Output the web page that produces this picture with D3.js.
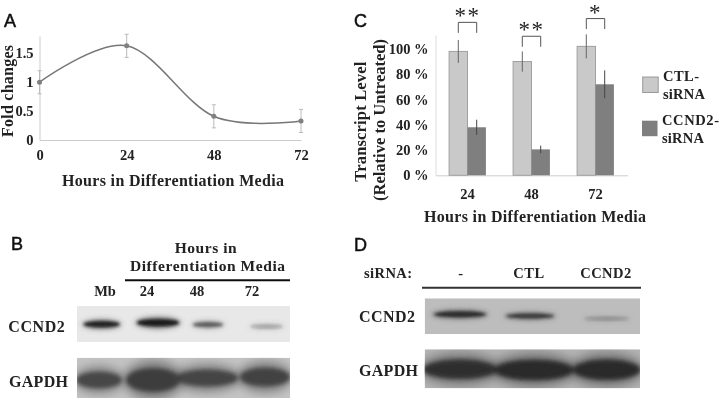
<!DOCTYPE html>
<html>
<head>
<meta charset="utf-8">
<script src="https://cdnjs.cloudflare.com/ajax/libs/d3/7.8.5/d3.min.js"></script>
<style>
  html, body { margin: 0; padding: 0; background: #fff; }
  svg { display: block; }
  text { font-family: "Liberation Serif", serif; font-weight: bold; fill: #222; }
  .panel { font-family: "Liberation Sans", sans-serif; font-weight: normal; font-size: 18px; fill: #111; stroke: #111; stroke-width: 0.5px; }
</style>
</head>
<body>
<div id="chart"></div>
<script>
// panel A
var foldHours = [0, 24, 48, 72];
var foldValues = [1, 1.63, 0.41, 0.33];
var foldErrors = [0.2, 0.2, 0.2, 0.2];
var foldTicks = [0, 0.5, 1, 1.5];

// panel C
var hourGroups = ["24", "48", "72"];
var ctlValues = [98, 90, 102];
var ctlErrors = [9, 8, 9.5];
var ccndValues = [38, 20.5, 72];
var ccndErrors = [6, 3, 11];
var percentTicks = [0, 20, 40, 60, 80, 100];
var sigMarks = ["**", "**", "*"];
var sigLevels = [121, 110, 124];

// panel B, relative band density
var bLanes = ["Mb", "24", "48", "72"];
var bCcnd2 = [0.95, 1, 0.55, 0.2];
var bGapdh = [0.85, 1, 0.9, 0.92];

// panel D, relative band density
var dLanes = ["-", "CTL", "CCND2"];
var dCcnd2 = [0.95, 0.8, 0.2];
var dGapdh = [0.95, 1, 1];

var width = 720;
var height = 400;

var svg = d3.select("#chart").append("svg").attr("width", width).attr("height", height);

var defs = svg.append("defs");
defs.append("filter").attr("id", "soft").append("feGaussianBlur").attr("stdDeviation", 0.35);
[["blur1", 1.4], ["blur2", 2.2], ["halo1", 2.6], ["halo2", 5]].forEach((b) => {
  defs.append("filter").attr("id", b[0])
    .attr("x", "-30%").attr("y", "-80%").attr("width", "160%").attr("height", "260%")
    .append("feGaussianBlur").attr("stdDeviation", b[1]);
});

var root = svg.append("g").attr("filter", "url(#soft)");

// text with a fixed painted length, the original type is spaced wider than the font
function label(str, x, y, size, length, anchor) {
  var t = root.append("text")
    .attr("x", x).attr("y", y)
    .attr("font-size", size)
    .attr("text-anchor", anchor || "start")
    .text(str);
  if (length) t.attr("textLength", length).attr("lengthAdjust", "spacing");
  return t;
}

function panelLetter(str, x, y) {
  root.append("text").attr("class", "panel").attr("x", x).attr("y", y).text(str);
}

function styleAxis(g, size, color) {
  g.select(".domain").attr("stroke", color);
  g.selectAll(".tick line").remove();
  g.selectAll("text").attr("font-size", size).attr("fill", "#222");
}

function errorBars(g, data, color, cap) {
  var bars = g.append("g").attr("stroke", color).attr("stroke-width", 1).attr("fill", "none");
  bars.selectAll("path").data(data).join("path")
    .attr("d", (d) => `M${d.x - cap},${d.hi}H${d.x + cap}M${d.x},${d.hi}V${d.lo}M${d.x - cap},${d.lo}H${d.x + cap}`);
}

// **** panel A ****
var xA = d3.scaleLinear().domain([0, 72]).range([39.5, 301]);
var yA = d3.scaleLinear().domain([0, 1.8]).range([140, 36]);

panelLetter("A", 4, 27);

root.append("g").attr("transform", "translate(0,140)")
  .call(d3.axisBottom(xA).tickValues(foldHours).tickSize(0).tickPadding(10))
  .call((g) => styleAxis(g, 14.5, "#ccc"));

root.append("g").attr("transform", "translate(39.5,0)")
  .call(d3.axisLeft(yA).tickValues(foldTicks).tickSize(0).tickPadding(6).tickFormat((d) => d))
  .call((g) => styleAxis(g, 14.5, "#ccc"));

errorBars(root, foldHours.map((h, i) => ({
  x: xA(h), hi: yA(foldValues[i] + foldErrors[i]), lo: yA(foldValues[i] - foldErrors[i])
})), "#bbb", 2);

root.append("path")
  .datum(foldHours.map((h, i) => [h, foldValues[i]]))
  .attr("fill", "none").attr("stroke", "#777").attr("stroke-width", 1.5)
  .attr("d", d3.line().x((d) => xA(d[0])).y((d) => yA(d[1])).curve(d3.curveCardinal.tension(0)));

root.append("g").selectAll("circle").data(foldHours).join("circle")
  .attr("cx", (d) => xA(d))
  .attr("cy", (d, i) => yA(foldValues[i]))
  .attr("r", 2.5).attr("fill", "#808080");

label("Fold changes", 0, 0, 16, 92, "middle").attr("transform", "translate(13,91) rotate(-90)");
label("Hours in Differentiation Media", 62, 186, 16, 222);

// **** panel C ****
var xC = d3.scaleBand().domain(hourGroups).range([435.5, 627.5]);
var yC = d3.scaleLinear().domain([0, 111]).range([175.3, 35]);
var barW = 18.4;

panelLetter("C", 354, 27);

root.append("g").attr("transform", "translate(0,175.3)")
  .call(d3.axisBottom(xC).tickSize(0).tickPadding(13))
  .call((g) => styleAxis(g, 14.5, "#ccc"));

root.append("g").attr("transform", "translate(435.5,0)")
  .call(d3.axisLeft(yC).tickValues(percentTicks).tickSize(0).tickPadding(7).tickFormat((d) => d + " %"))
  .call((g) => styleAxis(g, 14.5, "#ddd"));

function barCenter(group, side) {
  return xC(group) + xC.bandwidth() / 2 + side * barW / 2;
}

root.append("g").selectAll("rect").data(hourGroups).join("rect")
  .attr("x", (d) => barCenter(d, -1) - barW / 2)
  .attr("y", (d, i) => yC(ctlValues[i]))
  .attr("width", barW)
  .attr("height", (d, i) => yC(0) - yC(ctlValues[i]))
  .attr("fill", "#c9c9c9").attr("stroke", "#a0a0a0");

root.append("g").selectAll("rect").data(hourGroups).join("rect")
  .attr("x", (d) => barCenter(d, 1) - barW / 2)
  .attr("y", (d, i) => yC(ccndValues[i]))
  .attr("width", barW)
  .attr("height", (d, i) => yC(0) - yC(ccndValues[i]))
  .attr("fill", "#7f7f7f");

errorBars(root, hourGroups.map((h, i) => ({
  x: barCenter(h, -1), hi: yC(ctlValues[i] + ctlErrors[i]), lo: yC(ctlValues[i] - ctlErrors[i])
})), "#666", 0);
errorBars(root, hourGroups.map((h, i) => ({
  x: barCenter(h, 1), hi: yC(ccndValues[i] + ccndErrors[i]), lo: yC(ccndValues[i] - ccndErrors[i])
})), "#444", 0);

// significance brackets
root.append("g").attr("fill", "none").attr("stroke", "#555").attr("stroke-width", 1)
  .selectAll("path").data(hourGroups).join("path")
  .attr("d", (d, i) => {
    var top = yC(sigLevels[i]);
    var drop = yC(0) - yC(8.3);
    return `M${barCenter(d, -1)},${top + drop}V${top}H${barCenter(d, 1)}V${top + drop}`;
  });

root.append("g").selectAll("text").data(hourGroups).join("text")
  .attr("x", (d) => xC(d) + xC.bandwidth() / 2)
  .attr("y", (d, i) => yC(sigLevels[i]) + 1)
  .attr("text-anchor", "middle")
  .attr("font-size", 23)
  .style("font-weight", "normal")
  .style("letter-spacing", "1.5px")
  .text((d, i) => sigMarks[i]);

label("Transcript Level", 0, 0, 16.5, 120, "middle").attr("transform", "translate(366,121.7) rotate(-90)");
label("(Relative to Untreated)", 0, 0, 16.5, 162, "middle").attr("transform", "translate(385,120) rotate(-90)");
label("Hours in Differentiation Media", 424, 221.7, 16, 222);

// legend
root.append("rect").attr("x", 642.7).attr("y", 77).attr("width", 15.5).attr("height", 15.5)
  .attr("fill", "#c9c9c9").attr("stroke", "#999");
root.append("rect").attr("x", 642).attr("y", 120.7).attr("width", 15.5).attr("height", 15.5)
  .attr("fill", "#7f7f7f");
label("CTL-", 663, 81, 14.5, 36);
label("siRNA", 663, 99, 14.5, 42);
label("CCND2-", 662, 125, 14.5, 57);
label("siRNA", 662, 142.7, 14.5, 42);

// **** western blots ****
// density sets darkness of the band, its footprint comes from the lane placement
var darkness = d3.scaleLinear().domain([0, 1]).range([0.1, 1]);

function blot(x0, x1, y0, y1, fill, lanes, densities, placement, blur, halo, core) {
  var clipId = "clip" + Math.round(x0) + "-" + Math.round(y0);
  defs.append("clipPath").attr("id", clipId).append("rect")
    .attr("x", x0).attr("y", y0).attr("width", x1 - x0).attr("height", y1 - y0);
  var g = root.append("g").attr("clip-path", "url(#" + clipId + ")");
  g.append("rect").attr("x", x0).attr("y", y0).attr("width", x1 - x0).attr("height", y1 - y0).attr("fill", fill);
  var xLane = d3.scaleOrdinal().domain(lanes).range(placement.x);
  // wide smear under the band
  g.append("g").attr("filter", "url(#" + halo + ")").selectAll("ellipse").data(lanes).join("ellipse")
    .attr("cx", (d) => xLane(d))
    .attr("cy", (d, i) => placement.y[i])
    .attr("rx", (d, i) => placement.rx[i] * 1.1)
    .attr("ry", (d, i) => placement.ry[i] * 1.7)
    .attr("fill", "#555")
    .attr("opacity", (d, i) => darkness(densities[i]) * 0.6);
  g.append("g").attr("filter", "url(#" + blur + ")").selectAll("ellipse").data(lanes).join("ellipse")
    .attr("cx", (d) => xLane(d))
    .attr("cy", (d, i) => placement.y[i])
    .attr("rx", (d, i) => placement.rx[i])
    .attr("ry", (d, i) => placement.ry[i])
    .attr("fill", core)
    .attr("opacity", (d, i) => darkness(densities[i]));
}

panelLetter("B", 11, 250);
label("Hours in", 205.7, 252.7, 15.5, 62, "middle");
label("Differentiation Media", 130, 271, 15.5, 155);
root.append("line").attr("x1", 125).attr("x2", 290).attr("y1", 280.3).attr("y2", 280.3)
  .attr("stroke", "#111").attr("stroke-width", 2);

var xBLabels = d3.scaleOrdinal().domain(bLanes).range([105, 147, 197, 252]);
root.append("g").selectAll("text").data(bLanes).join("text")
  .attr("x", (d) => xBLabels(d)).attr("y", 296)
  .attr("text-anchor", "middle").attr("font-size", 14.5)
  .text((d) => d);

label("CCND2", 8.3, 331.7, 16, 56.5);
label("GAPDH", 9, 386.7, 16, 59);

blot(77, 290, 306, 342, "#e8e8e8", bLanes, bCcnd2,
  { x: [101.7, 158, 208, 266.7], y: [324.3, 322.7, 324.7, 326.5], rx: [18, 21, 15, 16], ry: [3.2, 3.8, 2.6, 2] }, "blur1", "halo1", "#1c1c1c");
blot(77, 290, 357.7, 398, "#c4c4c4", bLanes, bGapdh,
  { x: [99, 153, 207, 265], y: [380, 380, 378, 377], rx: [23, 27, 31, 25], ry: [8.5, 12, 8.5, 9.5] }, "blur2", "halo2", "#3c3c3c");

panelLetter("D", 354, 250.7);
label("siRNA:", 364, 277.7, 14.5, 48);

var xDLabels = d3.scaleOrdinal().domain(dLanes).range([461, 529, 606]);
root.append("g").selectAll("text").data(dLanes).join("text")
  .attr("x", (d) => xDLabels(d)).attr("y", 277.7)
  .attr("text-anchor", "middle").attr("font-size", 14.5).style("letter-spacing", "0.5px")
  .text((d) => d);

root.append("line").attr("x1", 422).attr("x2", 641).attr("y1", 287.7).attr("y2", 287.7)
  .attr("stroke", "#333").attr("stroke-width", 2);

label("CCND2", 359, 322.3, 16, 56);
label("GAPDH", 359, 375.7, 16, 59);

blot(424.7, 640, 298.3, 334, "#bdbdbd", dLanes, dCcnd2,
  { x: [460, 530, 606.7], y: [314.3, 316, 318.7], rx: [26, 24, 22], ry: [3, 2.6, 1.6] }, "blur1", "halo1", "#262626");
blot(424.7, 640, 349.3, 388.3, "#b4b4b4", dLanes, dGapdh,
  { x: [460, 534, 606.7], y: [369.3, 370, 369.8], rx: [37, 40, 34], ry: [10, 10.5, 10.5] }, "blur2", "halo2", "#2c2c2c");
</script>
</body>
</html>
